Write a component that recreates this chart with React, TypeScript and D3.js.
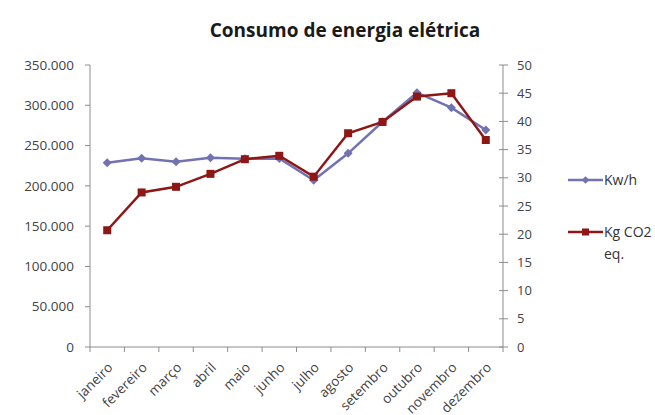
import React from "react";
import * as d3 from "d3";

// Monthly electricity consumption and associated CO2 emissions
const months = [
  "janeiro", "fevereiro", "março", "abril", "maio", "junho",
  "julho", "agosto", "setembro", "outubro", "novembro", "dezembro",
];
const kwh = [228700, 234200, 230000, 235000, 233700, 234000, 207000, 240400, 279600, 315600, 297000, 269300];
const kgCo2 = [20.7, 27.4, 28.4, 30.7, 33.3, 33.9, 30.2, 37.9, 39.9, 44.4, 45.0, 36.7];
const leftTicks = [0, 50000, 100000, 150000, 200000, 250000, 300000, 350000];
const rightTicks = [0, 5, 10, 15, 20, 25, 30, 35, 40, 45, 50];

const W = 655;
const H = 415;
const plot = { left: 90, right: 503, top: 65, bottom: 347 };
const BLUE = "#7272B2";
const RED = "#8E1616";
const AXIS = "#8C8C8C";
const TEXT = "#434343";
const FONT = "'Open Sans', 'Noto Sans', sans-serif";

const fmt = (v: number) => (v === 0 ? "0" : d3.format(",")(v).replace(/,/g, "."));

export default function App() {
  const x = d3.scaleBand<string>().domain(months).range([plot.left, plot.right]);
  const yL = d3.scaleLinear().domain([0, 350000]).range([plot.bottom, plot.top]);
  const yR = d3.scaleLinear().domain([0, 50]).range([plot.bottom, plot.top]);
  const cx = (m: string) => (x(m) as number) + x.bandwidth() / 2;

  const lineL = d3.line<number>().x((_, i) => cx(months[i])).y((d) => yL(d));
  const lineR = d3.line<number>().x((_, i) => cx(months[i])).y((d) => yR(d));

  const diamond = (px: number, py: number, r = 4.5) =>
    `M${px},${py - r}L${px + r},${py}L${px},${py + r}L${px - r},${py}Z`;

  const xTicks = months.map((m) => x(m) as number).concat([plot.right]);

  return (
    <svg width={W} height={H} style={{ position: "absolute", left: 0, top: 0, background: "#fff" }}>
      <text x={345} y={37} textAnchor="middle" fontFamily={FONT} fontWeight="bold" fontSize={19} fill="#1a1a1a">
        Consumo de energia elétrica
      </text>

      {/* left axis */}
      <line x1={plot.left} x2={plot.left} y1={plot.top} y2={plot.bottom} stroke={AXIS} />
      {leftTicks.map((t) => (
        <g key={"l" + t}>
          <line x1={plot.left - 5} x2={plot.left} y1={yL(t)} y2={yL(t)} stroke={AXIS} />
          <text x={74} y={yL(t)} dy="0.35em" textAnchor="end" fontFamily={FONT} fontSize={13.5} fill={TEXT}>
            {fmt(t)}
          </text>
        </g>
      ))}

      {/* right axis */}
      <line x1={plot.right} x2={plot.right} y1={plot.top} y2={plot.bottom} stroke={AXIS} />
      {rightTicks.map((t) => (
        <g key={"r" + t}>
          <line x1={plot.right - 4} x2={plot.right + 5} y1={yR(t)} y2={yR(t)} stroke={AXIS} />
          <text x={517} y={yR(t)} dy="0.35em" textAnchor="start" fontFamily={FONT} fontSize={13} fill={TEXT}>
            {t}
          </text>
        </g>
      ))}

      {/* category axis */}
      <line x1={plot.left} x2={plot.right} y1={plot.bottom} y2={plot.bottom} stroke={AXIS} />
      {xTicks.map((t, i) => (
        <line key={"x" + i} x1={t} x2={t} y1={plot.bottom} y2={plot.bottom + 5} stroke={AXIS} />
      ))}
      {months.map((m) => (
        <text
          key={m}
          transform={`translate(${cx(m) + 3},${plot.bottom + 18}) rotate(-45)`}
          textAnchor="end"
          dy="0.35em"
          fontFamily={FONT}
          fontSize={13.5}
          fill={TEXT}
        >
          {m}
        </text>
      ))}

      {/* Kw/h series */}
      <path d={lineL(kwh) as string} fill="none" stroke={BLUE} strokeWidth={2.5} />
      {kwh.map((v, i) => (
        <path key={"b" + i} d={diamond(cx(months[i]), yL(v))} fill={BLUE} />
      ))}

      {/* Kg CO2 eq. series */}
      <path d={lineR(kgCo2) as string} fill="none" stroke={RED} strokeWidth={2.5} />
      {kgCo2.map((v, i) => (
        <rect key={"r" + i} x={cx(months[i]) - 4} y={yR(v) - 4} width={8} height={8} fill={RED} />
      ))}

      {/* legend */}
      <line x1={568} x2={603} y1={180} y2={180} stroke={BLUE} strokeWidth={2.5} />
      <path d={diamond(585.5, 180, 3.8)} fill={BLUE} />
      <text x={604} y={180} dy="0.35em" fontFamily={FONT} fontSize={14} fill="#333">Kw/h</text>

      <line x1={568} x2={603} y1={232} y2={232} stroke={RED} strokeWidth={2.5} />
      <rect x={582} y={228.5} width={7} height={7} fill={RED} />
      <text x={604} y={232} dy="0.35em" fontFamily={FONT} fontSize={14} fill="#333">Kg CO2</text>
      <text x={604} y={254} dy="0.35em" fontFamily={FONT} fontSize={14} fill="#333">eq.</text>
    </svg>
  );
}
